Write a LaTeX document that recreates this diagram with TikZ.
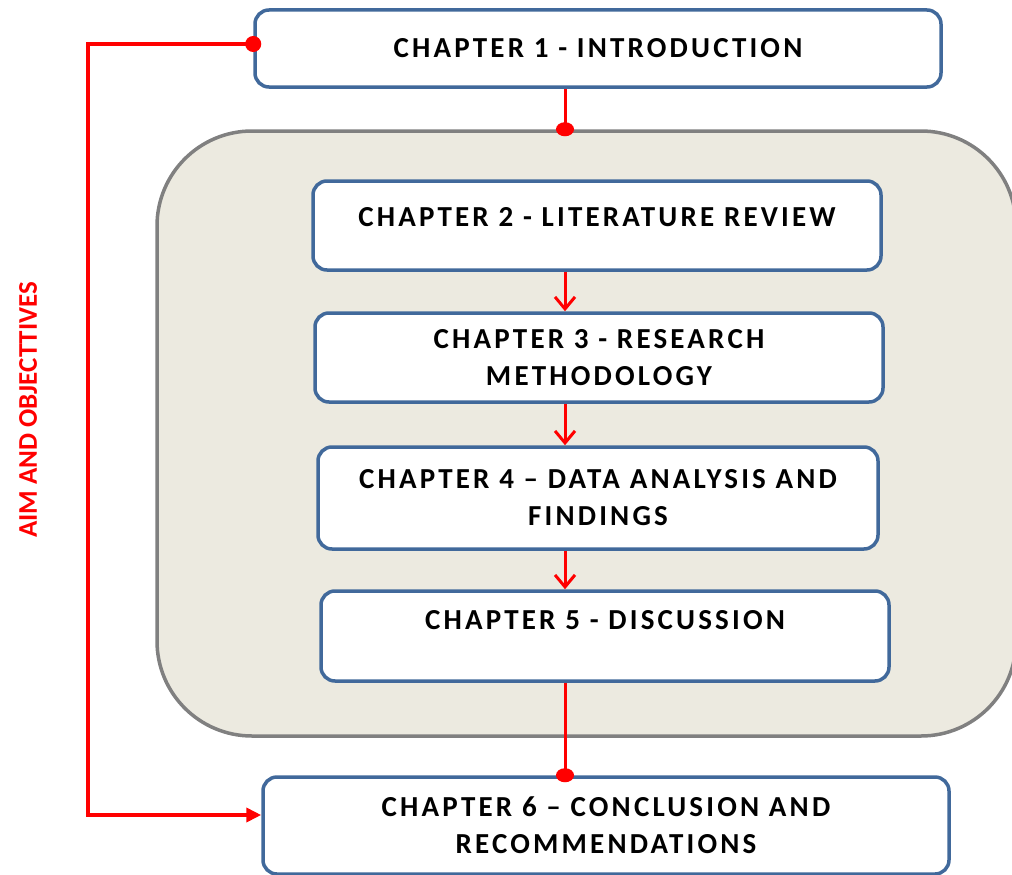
\documentclass[tikz,border=0pt]{standalone}
\usepackage{fontspec}
\setmainfont{Carlito}
\newfontfamily\chapfont[LetterSpace=11]{Carlito}
\usetikzlibrary{arrows.meta}
\definecolor{chapblue}{RGB}{65,105,155}
\definecolor{bgfill}{RGB}{236,234,224}
\definecolor{bgline}{RGB}{128,128,128}
\tikzset{x=1pt,y=-1pt}

\begin{document}
\begin{tikzpicture}[
            chapter/.style={draw=chapblue,line width=3.5pt,fill=white,rounded corners=14pt,inner sep=0pt,align=center,font=\chapfont\bfseries\fontsize{29}{37}\selectfont},
            flow/.style={draw=red,line width=3pt,-{Straight Barb[length=12pt,width=20pt]}},
            joint/.style={draw=red,line width=3pt,shorten >=-7pt,-{Circle[length=14pt,width=18pt]}}
            ]
            \useasboundingbox (0,0) rectangle (1012,875);
            \node[draw=bgline,fill=bgfill,line width=3.5pt,rounded corners=95pt,minimum width=859pt,minimum height=605pt] (study) at (586.5,433.5) {};
            \node[chapter,minimum width=686pt,minimum height=77pt] (ch1) at (598,48.5) {CHAPTER 1 - INTRODUCTION};
            \node[chapter,minimum width=568pt,minimum height=89pt,text depth=18pt] (ch2) at (597,225.5) {CHAPTER 2 - LITERATURE REVIEW};
            \node[chapter,minimum width=568pt,minimum height=89pt] (ch3) at (599,357.5) {CHAPTER 3 - RESEARCH\\METHODOLOGY};
            \node[chapter,minimum width=560pt,minimum height=102pt] (ch4) at (598,498) {CHAPTER 4 – DATA ANALYSIS AND\\FINDINGS};
            \node[chapter,minimum width=568pt,minimum height=90pt,text depth=32pt] (ch5) at (605,636) {CHAPTER 5 - DISCUSSION};
            \node[chapter,minimum width=686pt,minimum height=97pt] (ch6) at (606,825.5) {CHAPTER 6 – CONCLUSION AND\\RECOMMENDATIONS};
            \node[rotate=90,text=red,font=\bfseries\fontsize{27}{30}\selectfont] (aim) at (28,410) {AIM AND OBJECTTIVES};
            \coordinate (spine) at (565,0);
            \coordinate (aimbottom) at (88,815);
            \draw[joint] (ch1.south -| spine) -- (spine |- study.north);
            \draw[flow] (ch2.south -| spine) -- (ch3.north -| spine);
            \draw[flow] (ch3.south -| spine) -- (ch4.north -| spine);
            \draw[flow] (ch4.south -| spine) -- (ch5.north -| spine);
            \draw[joint] (ch5.south -| spine) -- (spine |- ch6.north);
            \draw[draw=red,line width=4pt,shorten <=-8pt,{Circle[length=16pt,width=16pt]}-{Triangle[length=15pt,width=14pt]}] ([yshift=4.5pt]ch1.west) -| (aimbottom) -- ([yshift=10.5pt]ch6.west);
\end{tikzpicture}
\end{document}
